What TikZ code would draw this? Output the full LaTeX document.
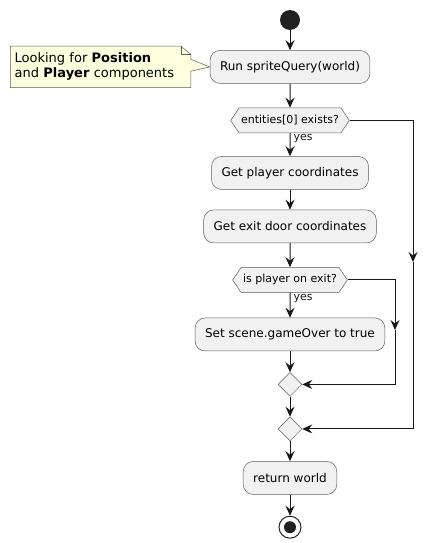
\documentclass[tikz,border=0pt]{standalone}
\usepackage{fontspec}
\setmainfont{DejaVu Sans}
\usepackage{tikz}
\usetikzlibrary{shapes.geometric,shapes.symbols,arrows.meta,positioning,calc}
\definecolor{boxfill}  {HTML}{F1F1F1}
\definecolor{linedark} {HTML}{181818}
\definecolor{notefill} {HTML}{FEFFDD}
\definecolor{dotfill}  {HTML}{222222}

\begin{document}
\begin{tikzpicture}[
  x=1pt, y=1pt,
  font=\fontsize{12}{14}\selectfont,
  >={Stealth[length=10pt,width=9pt,inset=3.5pt]},
  actbox/.style={rectangle, rounded corners=10pt,
    draw=linedark!70, fill=boxfill, line width=0.5pt,
    inner xsep=10pt, minimum height=33pt},
  ifbox/.style={signal, signal to=east and west, signal pointer angle=112,
    draw=linedark!70, fill=boxfill, line width=0.5pt,
    inner xsep=2pt, minimum height=25pt, font=\fontsize{11}{13}\selectfont},
  mergebox/.style={diamond, draw=linedark!70, fill=boxfill, line width=0.5pt,
    minimum width=24pt, minimum height=24pt, inner sep=0pt},
  startdot/.style={circle, fill=dotfill, minimum size=20pt, inner sep=0pt},
  stopring/.style={circle, draw=dotfill, fill=white, line width=1pt,
    minimum size=22pt, inner sep=0pt},
  stopdot/.style={circle, fill=dotfill, minimum size=12pt, inner sep=0pt},
  notebox/.style={rectangle, minimum width=180pt, minimum height=41pt,
    text width=172pt, inner xsep=4pt, align=left,
    font=\fontsize{13}{15}\selectfont},
  yeslabel/.style={anchor=north west, inner sep=1pt, xshift=2pt,
    font=\fontsize{11}{13}\selectfont},
  arr/.style={->, line width=1pt, color=linedark},
]
\useasboundingbox (0,0) rectangle (438,-543);

% Start
\node[startdot] (start) at (290,-20) {};

% Query
\node[actbox, below=20pt of start] (query) {Run spriteQuery(world)};

% Note
\node[notebox, left=19pt of query] (note)
  {Looking for \textbf{Position}\\and \textbf{Player} components};
\draw[fill=notefill, draw=linedark!70, line width=0.5pt]
  (note.north west) -- ([xshift=-10pt]note.north east)
  -- ([yshift=-8pt]note.north east) -- ([yshift=-13pt]note.north east)
  -- (query.west) -- ([yshift=-25pt]note.north east)
  -- (note.south east) -- (note.south west) -- cycle;
\draw[draw=linedark!70, line width=0.5pt]
  ([xshift=-10pt]note.north east) -- ([xshift=-10pt,yshift=-8pt]note.north east)
  -- ([yshift=-8pt]note.north east);
\node[notebox] at (note) {Looking for \textbf{Position}\\and \textbf{Player} components};

% First check
\node[ifbox, below=24pt of query] (hasplayer) {entities[0] exists?};
\node[actbox, below=23pt of hasplayer] (playerpos) {Get player coordinates};
\node[actbox, below=20pt of playerpos] (exitpos) {Get exit door coordinates};

% Second check
\node[ifbox, below=24pt of exitpos] (onexit) {is player on exit?};
\node[actbox, below=25pt of onexit] (gameover) {Set scene.gameOver to true};
\node[mergebox, below=21pt of gameover] (mergein) {};
\node[mergebox, below=20pt of mergein] (mergeout) {};

% End
\node[actbox, below=20pt of mergeout] (ret) {return world};
\node[stopring, below=21pt of ret] (stop) {};
\node[stopdot] (stopin) at (stop) {};

% Skip lanes
\coordinate (skipout) at (413,-262);
\coordinate (skipin)  at (395,-330);

% Main arrows
\draw[arr] (start) -- (query);
\draw[arr] (query) -- (hasplayer);
\draw[arr] (hasplayer) -- (playerpos)
  node[yeslabel, pos=0] {yes};
\draw[arr] (playerpos) -- (exitpos);
\draw[arr] (exitpos) -- (onexit);
\draw[arr] (onexit) -- (gameover)
  node[yeslabel, pos=0] {yes};
\draw[arr] (gameover) -- (mergein);
\draw[arr] (mergein) -- (mergeout);
\draw[arr] (mergeout) -- (ret);
\draw[arr] (ret) -- (stop);

% Else branches
\draw[arr] (hasplayer.east) -| (skipout);
\draw[arr] (skipout) |- (mergeout.east);
\draw[arr] (onexit.east) -| (skipin);
\draw[arr] (skipin) |- (mergein.east);
\end{tikzpicture}
\end{document}
